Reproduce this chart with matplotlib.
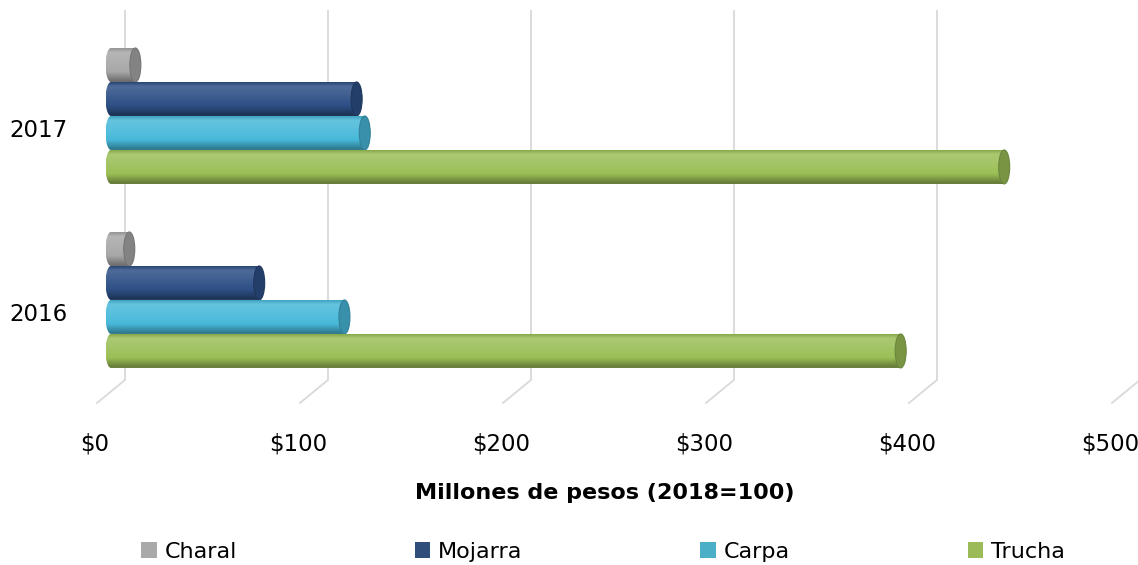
import numpy as np
import matplotlib
matplotlib.use('Agg')
import matplotlib.pyplot as plt
from matplotlib.patches import Ellipse, Patch, PathPatch
from matplotlib.path import Path
from matplotlib.colors import LinearSegmentedColormap, to_rgb
from matplotlib.transforms import ScaledTranslation

# ---------------- data ----------------
years = ['2016', '2017']
series = ['Charal', 'Mojarra', 'Carpa', 'Trucha']
charal = [9, 12]
mojarra = [73, 121]
carpa = [115, 125]
trucha = [389, 440]
xticks = [0, 100, 200, 300, 400, 500]
xticklabels = ['$0', '$100', '$200', '$300', '$400', '$500']
xlabel = 'Millones de pesos (2018=100)'
bar_colors = ['#A8A8A8', '#2D4F85', '#48B9DA', '#9BBF57']
legend_colors = ['#A9A9A9', '#2F4E7A', '#4BAFC8', '#9BBB59']

values = [charal, mojarra, carpa, trucha]

# ---------------- figure ----------------
plt.rcParams['font.family'] = ['DejaVu Sans']
W, H, DPI = 1138, 565, 100
fig = plt.figure(figsize=(W / DPI, H / DPI), dpi=DPI)
ax = fig.add_axes([80 / W, (H - 405) / H, (W - 80) / W, 395 / H])

pxu = 2.03                       # pixels per value unit
xmin, xmax = (80 - 111) / pxu, (W - 111) / pxu
ymin, ymax = -0.571, 1.576
ax.set_xlim(xmin, xmax)
ax.set_ylim(ymin, ymax)

h = 34 / 184                     # bar thickness (group spacing = 1)
ew = 11 / pxu                    # ellipse width of cylinder caps
depth = 14 / pxu                 # oblique offset for grid
yback = (300 - 380) / 184
yfront = (300 - 403) / 184


def mix(c, other, f):
    c = np.array(to_rgb(c)); o = np.array(other)
    return tuple(c * (1 - f) + o * f)


def cylinder(yc, v, color, z):
    y0, y1 = yc - h / 2, yc + h / 2
    a = ew / 2
    t = np.linspace(-np.pi / 2, -3 * np.pi / 2, 40)
    arc = list(zip(a * np.cos(t), yc + h / 2 * np.sin(t)))
    verts = [(0, y1), (v, y1), (v, y0)] + arc + [(0, y1)]
    codes = [Path.MOVETO] + [Path.LINETO] * (len(verts) - 2) + [Path.CLOSEPOLY]
    path = Path(verts, codes)
    clip = PathPatch(path, transform=ax.transData, facecolor='none', edgecolor='none')
    ax.add_patch(clip)
    cmap = LinearSegmentedColormap.from_list('cyl', [
        (0.0, mix(color, (0, 0, 0), 0.12)),
        (0.12, mix(color, (1, 1, 1), 0.16)),
        (0.35, mix(color, (1, 1, 1), 0.10)),
        (0.7, to_rgb(color)),
        (1.0, mix(color, (0, 0, 0), 0.38)),
    ])
    grad = np.linspace(0, 1, 64).reshape(-1, 1)
    im = ax.imshow(grad, cmap=cmap, extent=(-a, v, y0, y1), origin='upper',
                   aspect='auto', interpolation='bicubic', zorder=z)
    im.set_clip_path(clip)
    cap = Ellipse((v, yc), ew, h, facecolor=mix(color, (0, 0, 0), 0.22),
                  edgecolor=mix(color, (0, 0, 0), 0.30), lw=0.8, zorder=z + 0.1)
    ax.add_patch(cap)


# grid lines (oblique floor)
for xv in xticks:
    ax.plot([xv + depth, xv + depth, xv - depth], [ymax, yback, yfront],
            color='#D9D9D9', lw=1.3, zorder=1, clip_on=True)

# bars
for gi, yr in enumerate(years):
    for si, name in enumerate(series):
        yc = gi + (1.5 - si) * h
        cylinder(yc, values[si][gi], bar_colors[si], 3 + si)

ax.set_xlim(xmin, xmax)
ax.set_ylim(ymin, ymax)

for s in ax.spines.values():
    s.set_visible(False)
ax.tick_params(length=0)
ax.set_xticks(xticks)
ax.set_xticklabels(xticklabels, fontsize=16.5)
ax.tick_params(axis='x', pad=20)
ax.set_yticks(range(len(years)))
ax.set_yticklabels(years, fontsize=16.5)
ax.tick_params(axis='y', pad=9)
for lab in ax.get_xticklabels():
    lab.set_transform(lab.get_transform() + ScaledTranslation(-0.16, 0, fig.dpi_scale_trans))
for lab in ax.get_yticklabels():
    lab.set_transform(lab.get_transform() + ScaledTranslation(0, -0.12, fig.dpi_scale_trans))

fig.text(605 / W, 1 - 493 / H, xlabel, ha='center', va='center',
         fontsize=16, fontweight='bold')

handles = [Patch(facecolor=c, edgecolor='none', label=n) for c, n in zip(legend_colors, series)]
fig.legend(handles=handles, loc='center', bbox_to_anchor=(603 / W, 1 - 552 / H),
           ncol=4, frameon=False, fontsize=16, handlelength=0.7, handleheight=0.7,
           handletextpad=0.35, columnspacing=8.0)

fig.savefig('out.png', dpi=DPI)
